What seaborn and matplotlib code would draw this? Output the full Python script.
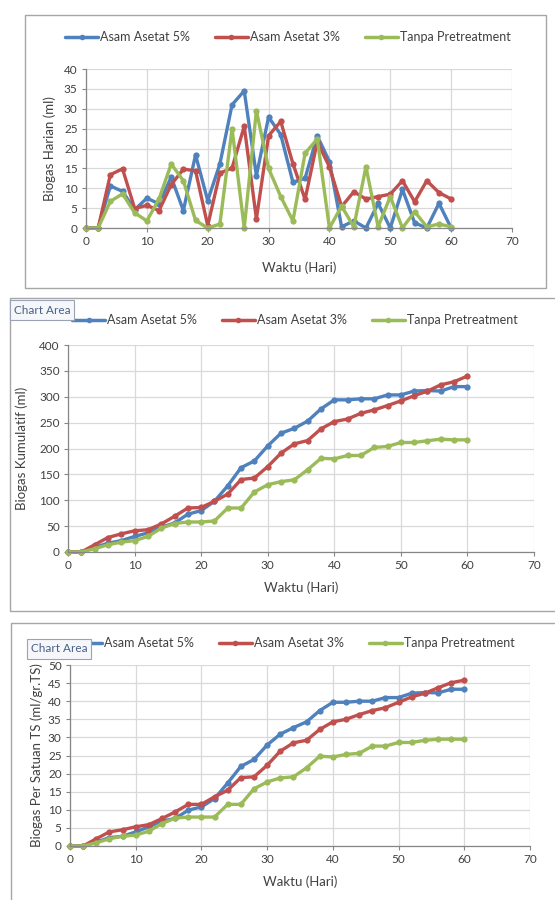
import pandas as pd
import matplotlib
matplotlib.use("Agg")
import matplotlib.pyplot as plt
from matplotlib.lines import Line2D
from matplotlib.patches import Rectangle
import seaborn as sns

# Data (day, ml)
hari = list(range(0, 61, 2))
seri = ["Asam Asetat 5%", "Asam Asetat 3%", "Tanpa Pretreatment"]

harian_5 = [0, 0, 10.6, 9.2, 4.6, 7.5, 6.1, 12.8, 4.4, 18.4, 6.9, 16.1, 31, 34.5, 13.2, 27.9,
            23.5, 11.5, 12.5, 23.2, 16.7, 0.3, 1.8, 0, 6.2, 0, 9.7, 1.3, 0, 6.2, 0]
harian_3 = [0, 0, 13.4, 14.9, 4.9, 5.7, 4.4, 10.9, 14.8, 14.4, 0.6, 13.8, 15.1, 25.6, 2.3, 23.2,
            26.8, 16.2, 7.2, 21.7, 15.4, 5.4, 9.1, 7.3, 7.9, 8.5, 11.9, 6.6, 11.9, 8.9, 7.3]
harian_0 = [0, 0, 6.7, 8.6, 3.8, 1.8, 7.3, 16.1, 11.9, 1.9, 0, 1, 25, 0, 29.5, 15,
            7.9, 1.8, 18.8, 22.4, 0, 5.5, 0.3, 15.4, 0.3, 7.9, 0, 4.1, 0.3, 1, 0.3]

kum_5 = [0, 0, 9, 17, 22, 30, 37, 48, 56, 73, 80, 98, 128, 163, 176, 205,
         229.6, 239, 253, 276.5, 294, 294, 296, 296, 303.5, 303.5, 311, 312, 311, 319.6, 319.6]
kum_3 = [0, 0, 14, 28, 35, 41, 43, 54, 69, 85, 86, 98, 112, 140, 143, 165,
         191, 209, 215.4, 238, 252, 257, 268, 274.6, 283, 292, 302, 311, 323, 329, 340]
kum_0 = [0, 0, 6.4, 14, 19, 22, 30, 46, 55, 58, 58, 60, 85, 85, 116, 130,
         136, 139.5, 159, 181, 180, 186.5, 186.5, 202, 204, 211.6, 211.6, 215, 218, 216.7, 216.7]

ts_5 = [0, 0, 1.1, 2.3, 2.7, 3.9, 5.3, 6.9, 7.6, 9.9, 10.8, 13.1, 17.4, 22, 23.9, 27.9,
        30.9, 32.7, 34.3, 37.4, 39.7, 39.7, 40, 40, 41, 41, 42.2, 42.4, 42.3, 43.3, 43.3]
ts_3 = [0, 0, 2, 3.9, 4.5, 5.3, 5.9, 7.6, 9.4, 11.5, 11.5, 13.6, 15.4, 18.9, 19.1, 22.3,
        26.2, 28.5, 29.2, 32.2, 34.3, 35, 36.3, 37.4, 38.2, 39.7, 41.2, 42.2, 43.7, 45.1, 45.8]
ts_0 = [0, 0, 0.9, 2, 2.7, 3, 4.1, 6.2, 7.7, 8, 8, 8, 11.5, 11.5, 15.8, 17.7,
        18.8, 19.1, 21.6, 24.8, 24.6, 25.3, 25.6, 27.6, 27.6, 28.6, 28.6, 29.2, 29.5, 29.5, 29.5]

warna = {"Asam Asetat 5%": "#4F81BD", "Asam Asetat 3%": "#C0504D", "Tanpa Pretreatment": "#9BBB59"}

sns.set_theme(style="white")
plt.rcParams["font.family"] = ["Lato", "DejaVu Sans"]

W, H = 555, 900
fig = plt.figure(figsize=(W / 100, H / 100), dpi=100)


def box(l, t, r, b):
    return [l / W, 1 - b / H, (r - l) / W, (b - t) / H]


def to_long(a, b, c):
    rows = []
    for nama, vals in zip(seri, [a, b, c]):
        for h, v in zip(hari, vals):
            rows.append({"Hari": h, "nilai": v, "seri": nama})
    return pd.DataFrame(rows)


# panel frames (Excel chart areas)
frames = [(25, 15, 546, 288), (10, 298, 560, 611), (11, 623, 560, 905)]
for l, t, r, b in frames:
    fig.patches.append(Rectangle((l / W, 1 - b / H), (r - l) / W, (b - t) / H,
                                 transform=fig.transFigure, fill=False,
                                 edgecolor="#A6A6A6", linewidth=1.0))

panels = [
    dict(data=(harian_5, harian_3, harian_0), pos=(86, 69, 512, 228), ymax=40, ystep=5,
         ylabel="Biogas Harian (ml)", ylab_x=50, xlab_y=268, leg_y=37, leg_x=288),
    dict(data=(kum_5, kum_3, kum_0), pos=(68, 345, 534, 552), ymax=400, ystep=50,
         ylabel="Biogas Kumulatif (ml)", ylab_x=22, xlab_y=588, leg_y=320, leg_x=295),
    dict(data=(ts_5, ts_3, ts_0), pos=(70, 665, 530, 846), ymax=50, ystep=5,
         ylabel="Biogas Per Satuan TS (ml/gr.TS)", ylab_x=37, xlab_y=882, leg_y=643, leg_x=292),
]

handles = [Line2D([0], [0], color=warna[s], lw=2.5, marker="o", markersize=4,
                  markeredgewidth=0) for s in seri]

for p in panels:
    ax = fig.add_axes(box(*p["pos"]))
    df = to_long(*p["data"])
    sns.lineplot(data=df, x="Hari", y="nilai", hue="seri", palette=warna, hue_order=seri,
                 marker="o", markersize=4.5, markeredgewidth=0, linewidth=2.4,
                 legend=False, ax=ax, clip_on=False)
    ax.set_xlim(0, 70)
    ax.set_ylim(0, p["ymax"])
    ax.set_xticks(range(0, 71, 10))
    ax.set_yticks(range(0, p["ymax"] + 1, p["ystep"]))
    ax.grid(True, color="#D9D9D9", linewidth=0.9)
    ax.set_axisbelow(True)
    for s in ["top", "right"]:
        ax.spines[s].set_visible(False)
    for s in ["left", "bottom"]:
        ax.spines[s].set_color("#868686")
        ax.spines[s].set_linewidth(0.9)
    ax.tick_params(axis="both", which="both", direction="out", length=3, width=0.8,
                   color="#868686", labelsize=8.5, labelcolor="#404040", pad=3,
                   left=True, bottom=True)
    ax.set_xlabel("")
    ax.set_ylabel("")
    l, t, r, b = p["pos"]
    fig.text(p["ylab_x"] / W, 1 - ((t + b) / 2) / H, p["ylabel"], rotation=90,
             ha="center", va="center", fontsize=9.5, color="#404040")
    fig.text(((l + r) / 2) / W, 1 - p["xlab_y"] / H, "Waktu (Hari)",
             ha="center", va="center", fontsize=9.5, color="#404040")
    fig.legend(handles, seri, loc="center", ncol=3, frameon=False,
               bbox_to_anchor=(p["leg_x"] / W, 1 - p["leg_y"] / H),
               fontsize=9, handlelength=2.6, columnspacing=2.0, handletextpad=0.2,
               labelcolor="#404040")

# "Chart Area" tooltips seen in the screenshot
for cx, cy in [(42, 310), (59, 649)]:
    fig.text(cx / W, 1 - cy / H, "Chart Area", ha="center", va="center", fontsize=8.5,
             color="#4A6088", zorder=10,
             bbox=dict(boxstyle="square,pad=0.35", fc="#F5F7FB", ec="#9AA3B5", lw=0.8))

fig.savefig("out.png", dpi=100)
